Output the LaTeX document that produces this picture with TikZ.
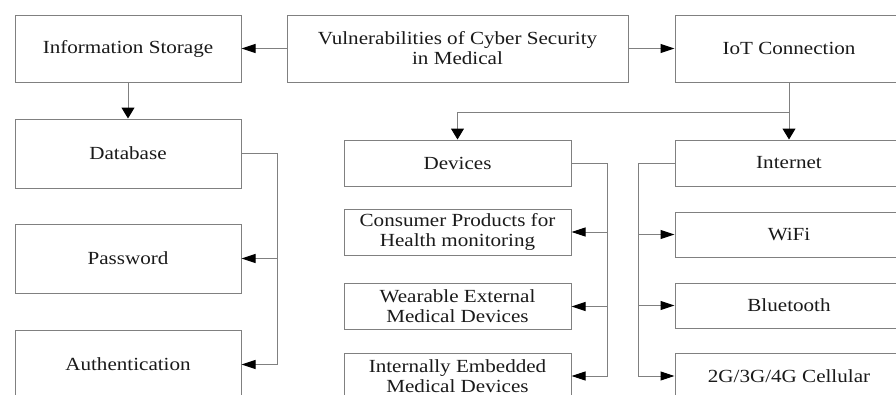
\documentclass[tikz,border=0pt]{standalone}
\usepackage{fontspec}
\setmainfont{Liberation Serif}[FakeStretch=1.14]
\usetikzlibrary{arrows.meta}
\definecolor{linegray}{HTML}{808080}
\definecolor{txt}{HTML}{1A1A1A}
\tikzset{
  x=1pt, y=-1pt,
  box/.style={draw=linegray, line width=1pt, fill=white, inner sep=0pt, align=center,
    text=txt, font=\fontsize{18.5}{20}\selectfont},
  conn/.style={draw=linegray, line width=1pt},
  harr/.style={conn, -{Triangle[length=14pt,width=9pt,black]}},
  varr/.style={conn, -{Triangle[length=11pt,width=13pt,black]}},
}
\begin{document}
\begin{tikzpicture}
\clip (0,0) rectangle (896,394);
\fill[white] (0,0) rectangle (896,394);
% top row
\node[box, minimum width=226pt, minimum height=67pt] (info) at (128,48.5) {Information Storage};
\node[box, minimum width=341pt, minimum height=67pt] (vuln) at (457.5,48.5) {Vulnerabilities of Cyber Security\\in Medical};
\node[box, minimum width=228pt, minimum height=67pt] (iot) at (789,48.5) {IoT Connection};
% left column
\node[box, minimum width=226pt, minimum height=69pt] (db) at (128,153.5) {Database};
\node[box, minimum width=226pt, minimum height=69pt] (pw) at (128,258.5) {Password};
\node[box, minimum width=226pt, minimum height=69pt] (auth) at (128,364.5) {Authentication};
% middle column
\node[box, minimum width=227pt, minimum height=46pt] (dev) at (457.5,163) {Devices};
\node[box, minimum width=227pt, minimum height=46pt] (cons) at (457.5,232) {Consumer Products for\\Health monitoring};
\node[box, minimum width=227pt, minimum height=46pt] (wear) at (457.5,306.5) {Wearable External\\Medical Devices};
\node[box, minimum width=227pt, minimum height=46pt] (intern) at (457.5,376) {Internally Embedded\\Medical Devices};
% right column
\node[box, minimum width=228pt, minimum height=46pt] (inet) at (789,163) {Internet};
\node[box, minimum width=228pt, minimum height=45pt] (wifi) at (789,234.5) {WiFi};
\node[box, minimum width=228pt, minimum height=45pt] (bt) at (789,305.5) {Bluetooth};
\node[box, minimum width=228pt, minimum height=46pt] (cell) at (789,376) {2G/3G/4G Cellular};
% bus coordinates
\coordinate (busL) at (277,0);
\coordinate (busD) at (607,0);
\coordinate (busI) at (638,0);
\coordinate (split) at (789,112);
% connectors
\draw[harr] (vuln.west) -- (info.east);
\draw[harr] (vuln.east) -- (iot.west);
\draw[varr] (info.south) -- (db.north);
\draw[harr] (db.east) -- (db.east -| busL) |- (auth.east);
\draw[harr] (pw.east -| busL) -- (pw.east);
\draw[varr] (iot.south) -- (inet.north);
\draw[varr] (split) -| (dev.north);
\draw[harr] (dev.east) -- (dev.east -| busD) |- (intern.east);
\draw[harr] (cons.east -| busD) -- (cons.east);
\draw[harr] (wear.east -| busD) -- (wear.east);
\draw[harr] (inet.west) -- (inet.west -| busI) |- (cell.west);
\draw[harr] (wifi.west -| busI) -- (wifi.west);
\draw[harr] (bt.west -| busI) -- (bt.west);
\end{tikzpicture}
\end{document}
